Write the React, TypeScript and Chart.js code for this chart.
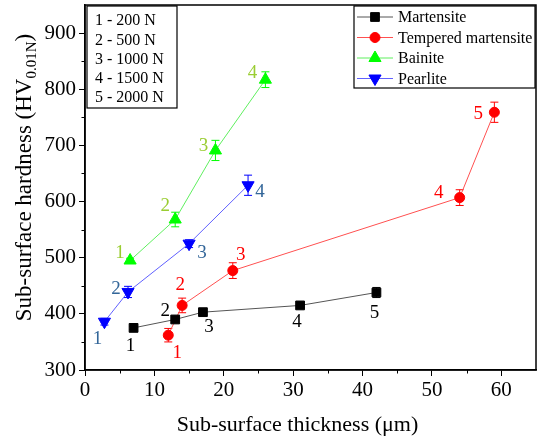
import React, { useEffect, useRef } from "react";
import { Chart, registerables } from "chart.js";

Chart.register(...registerables);

// ---- data ----
const martensiteX = [7, 13, 17, 31, 42];
const martensiteY = [375, 390, 403, 415, 438];
const martensiteErr = [3, 4, 4, 4, 9];

const temperedX = [12, 14, 21.3, 54, 59];
const temperedY = [362, 415, 477, 607, 759];
const temperedErr = [12, 13, 14, 14, 18];

const bainiteX = [6.5, 13, 18.8, 26];
const bainiteY = [495, 568, 691, 817];
const bainiteErr = [4, 13, 18, 14];

const pearliteX = [2.8, 6.2, 15, 23.5];
const pearliteY = [386, 439, 525, 629];
const pearliteErr = [6, 10, 7, 18];

const seriesNames = ["Martensite", "Tempered martensite", "Bainite", "Pearlite"];
const loadLabels = ["1 - 200 N", "2 - 500 N", "3 - 1000 N", "4 - 1500 N", "5 - 2000 N"];
const pointNumbers = ["1", "2", "3", "4", "5"];

const xTicks = [0, 10, 20, 30, 40, 50, 60];
const yTicks = [300, 400, 500, 600, 700, 800, 900];

// ---- label placement (pixel offsets from marker) ----
const martensiteLabelOff = [[-3, 18], [-10, -8], [6, 15], [-3, 17], [-2, 21]];
const temperedLabelOff = [[9, 18], [-2, -20], [8, -16], [-21, -5], [-16, 2]];
const bainiteLabelOff = [[-10, -7], [-10, -13], [-12, -4], [-13, -7]];
const pearliteLabelOff = [[-7, 17], [-12, -3], [13, 9], [12, 7]];

const FONT = "'Liberation Serif', 'Times New Roman', serif";

const toPts = (xs: number[], ys: number[]) => xs.map((x, i) => ({ x, y: ys[i] }));

const styles = [
  { line: "#555555", marker: "#000000", label: "#000000", shape: "rect", radius: 6.2, rot: 0 },
  { line: "#ff5050", marker: "#ff0000", label: "#ff0000", shape: "circle", radius: 5, rot: 0 },
  { line: "#5fef5f", marker: "#00ff00", label: "#9acd32", shape: "triangle", radius: 7, rot: 0 },
  { line: "#6060ff", marker: "#0000ff", label: "#336699", shape: "triangle", radius: 7, rot: 180 },
];

const errs = [martensiteErr, temperedErr, bainiteErr, pearliteErr];
const offs = [martensiteLabelOff, temperedLabelOff, bainiteLabelOff, pearliteLabelOff];

function drawMarker(ctx: CanvasRenderingContext2D, shape: string, r: number, rotDeg: number, x: number, y: number) {
  ctx.beginPath();
  if (shape === "rect") {
    const s = Math.SQRT1_2 * r;
    ctx.rect(x - s, y - s, 2 * s, 2 * s);
  } else if (shape === "circle") {
    ctx.arc(x, y, r, 0, Math.PI * 2);
  } else {
    let rad = (rotDeg * Math.PI) / 180;
    ctx.moveTo(x + Math.sin(rad) * r, y - Math.cos(rad) * r);
    rad += (2 * Math.PI) / 3;
    ctx.lineTo(x + Math.sin(rad) * r, y - Math.cos(rad) * r);
    rad += (2 * Math.PI) / 3;
    ctx.lineTo(x + Math.sin(rad) * r, y - Math.cos(rad) * r);
    ctx.closePath();
  }
  ctx.fill();
  ctx.stroke();
}

const decorPlugin = {
  id: "decor",
  beforeDatasetsDraw(chart: any) {
    const ctx = chart.ctx;
    const xs = chart.scales.x;
    const ys = chart.scales.y;
    chart.data.datasets.forEach((ds: any, di: number) => {
      ctx.save();
      ctx.strokeStyle = styles[di].marker;
      ctx.lineWidth = 1;
      ds.data.forEach((p: any, i: number) => {
        const e = errs[di][i];
        const px = xs.getPixelForValue(p.x);
        const top = ys.getPixelForValue(p.y + e);
        const bot = ys.getPixelForValue(p.y - e);
        ctx.beginPath();
        ctx.moveTo(px, top);
        ctx.lineTo(px, bot);
        ctx.moveTo(px - 4, top);
        ctx.lineTo(px + 4, top);
        ctx.moveTo(px - 4, bot);
        ctx.lineTo(px + 4, bot);
        ctx.stroke();
      });
      ctx.restore();
    });
  },
  afterDraw(chart: any) {
    const ctx = chart.ctx;
    const xs = chart.scales.x;
    const ys = chart.scales.y;
    const a = chart.chartArea;
    ctx.save();
    // minor ticks
    ctx.strokeStyle = "#000";
    ctx.lineWidth = 1;
    ctx.beginPath();
    for (let v = 5; v < 65; v += 10) {
      const px = Math.round(xs.getPixelForValue(v)) + 0.5;
      ctx.moveTo(px, a.bottom);
      ctx.lineTo(px, a.bottom + 3.5);
    }
    for (let v = 350; v < 950; v += 100) {
      const py = Math.round(ys.getPixelForValue(v)) + 0.5;
      ctx.moveTo(a.left, py);
      ctx.lineTo(a.left - 3.5, py);
    }
    ctx.stroke();
    // frame
    ctx.lineWidth = 1.5;
    ctx.strokeRect(a.left, a.top, a.right - a.left, a.bottom - a.top);

    // point labels
    ctx.font = `19px ${FONT}`;
    ctx.textAlign = "center";
    ctx.textBaseline = "middle";
    chart.data.datasets.forEach((ds: any, di: number) => {
      ctx.fillStyle = styles[di].label;
      ds.data.forEach((p: any, i: number) => {
        const px = xs.getPixelForValue(p.x) + offs[di][i][0];
        const py = ys.getPixelForValue(p.y) + offs[di][i][1];
        ctx.fillText(pointNumbers[i], px, py);
      });
    });

    // load legend (top-left)
    const lx = a.left + 2;
    const ly = a.top + 1;
    ctx.fillStyle = "#fff";
    ctx.fillRect(lx, ly, 90, 102);
    ctx.strokeStyle = "#000";
    ctx.lineWidth = 1.2;
    ctx.strokeRect(lx, ly, 90, 102);
    ctx.fillStyle = "#000";
    ctx.font = `16px ${FONT}`;
    ctx.textAlign = "left";
    loadLabels.forEach((t, i) => {
      ctx.fillText(t, lx + 8, ly + 15 + i * 19.3);
    });

    // series legend (top-right)
    const bw = 181;
    const bx = a.right - 1 - bw;
    const by = a.top + 1;
    ctx.fillStyle = "#fff";
    ctx.fillRect(bx, by, bw, 82);
    ctx.strokeStyle = "#000";
    ctx.lineWidth = 1.2;
    ctx.strokeRect(bx, by, bw, 82);
    seriesNames.forEach((n, i) => {
      const cy = by + 11 + i * 20.5;
      const st = styles[i];
      ctx.strokeStyle = st.line;
      ctx.lineWidth = 1;
      ctx.beginPath();
      ctx.moveTo(bx + 3, cy);
      ctx.lineTo(bx + 39, cy);
      ctx.stroke();
      ctx.fillStyle = st.marker;
      ctx.strokeStyle = st.marker;
      drawMarker(ctx, st.shape, st.radius, st.rot, bx + 21, cy);
      ctx.fillStyle = "#000";
      ctx.font = `16px ${FONT}`;
      ctx.textAlign = "left";
      ctx.textBaseline = "middle";
      ctx.fillText(n, bx + 44, cy + 1);
    });

    // x title
    ctx.fillStyle = "#000";
    ctx.font = `22px ${FONT}`;
    ctx.textAlign = "center";
    ctx.textBaseline = "middle";
    ctx.fillText("Sub-surface thickness (\u03bcm)", (a.left + a.right) / 2 - 13, 425);

    // y title with subscript
    ctx.save();
    const cyT = (a.top + a.bottom) / 2 - 10;
    ctx.translate(23, cyT);
    ctx.rotate(-Math.PI / 2);
    const main = "Sub-surface hardness (HV";
    const sub = "0.01N";
    const end = ")";
    const fMain = `23px ${FONT}`;
    const fSub = `15px ${FONT}`;
    ctx.font = fMain;
    const wMain = ctx.measureText(main).width;
    const wEnd = ctx.measureText(end).width;
    ctx.font = fSub;
    const wSub = ctx.measureText(sub).width;
    const total = wMain + wSub + wEnd;
    let x0 = -total / 2;
    ctx.textAlign = "left";
    ctx.textBaseline = "alphabetic";
    ctx.font = fMain;
    ctx.fillText(main, x0, 8);
    x0 += wMain;
    ctx.font = fSub;
    ctx.fillText(sub, x0, 13);
    x0 += wSub;
    ctx.font = fMain;
    ctx.fillText(end, x0, 8);
    ctx.restore();

    ctx.restore();
  },
};

export default function App() {
  const ref = useRef<HTMLCanvasElement | null>(null);
  useEffect(() => {
    document.body.style.margin = "0";
    const datasets = [
      toPts(martensiteX, martensiteY),
      toPts(temperedX, temperedY),
      toPts(bainiteX, bainiteY),
      toPts(pearliteX, pearliteY),
    ].map((d, i) => ({
      label: seriesNames[i],
      data: d,
      showLine: true,
      borderColor: styles[i].line,
      borderWidth: 1,
      backgroundColor: styles[i].marker,
      pointBackgroundColor: styles[i].marker,
      pointBorderColor: styles[i].marker,
      pointBorderWidth: 1,
      pointStyle: styles[i].shape,
      pointRadius: styles[i].radius,
      pointRotation: styles[i].rot,
      tension: 0,
    }));
    const chart = new Chart(ref.current as HTMLCanvasElement, {
      type: "scatter",
      data: { datasets } as any,
      options: {
        animation: false,
        responsive: false,
        maintainAspectRatio: false,
        layout: { autoPadding: false, padding: { top: 5, right: 1, left: 0, bottom: 0 } },
        plugins: { legend: { display: false }, tooltip: { enabled: false } },
        scales: {
          x: {
            type: "linear",
            min: 0,
            max: 65,
            afterBuildTicks: (s: any) => {
              s.ticks = xTicks.map((v) => ({ value: v }));
            },
            afterFit: (s: any) => {
              s.height = 68;
              s.paddingLeft = 0;
              s.paddingRight = 0;
              s.paddingTop = 0;
              s.paddingBottom = 0;
            },
            ticks: { font: { family: FONT, size: 21 }, color: "#000", padding: 2, maxRotation: 0 },
            grid: { display: true, drawOnChartArea: false, drawTicks: true, tickLength: 6, color: "#000", lineWidth: 1 },
            border: { display: true, color: "#000", width: 1.5 },
          },
          y: {
            type: "linear",
            min: 300,
            max: 950,
            afterBuildTicks: (s: any) => {
              s.ticks = yTicks.map((v) => ({ value: v }));
            },
            afterFit: (s: any) => {
              s.width = 85;
              s.paddingLeft = 0;
              s.paddingRight = 0;
              s.paddingTop = 0;
              s.paddingBottom = 0;
            },
            ticks: { font: { family: FONT, size: 21 }, color: "#000", padding: 3 },
            grid: { display: true, drawOnChartArea: false, drawTicks: true, tickLength: 6, color: "#000", lineWidth: 1 },
            border: { display: true, color: "#000", width: 1.5 },
          },
        },
      },
      plugins: [decorPlugin],
    } as any);
    return () => chart.destroy();
  }, []);
  return (
    <div style={{ position: "absolute", left: 0, top: 0, width: 537, height: 438, background: "#fff" }}>
      <canvas ref={ref} width={537} height={438} style={{ width: 537, height: 438 }} />
    </div>
  );
}
